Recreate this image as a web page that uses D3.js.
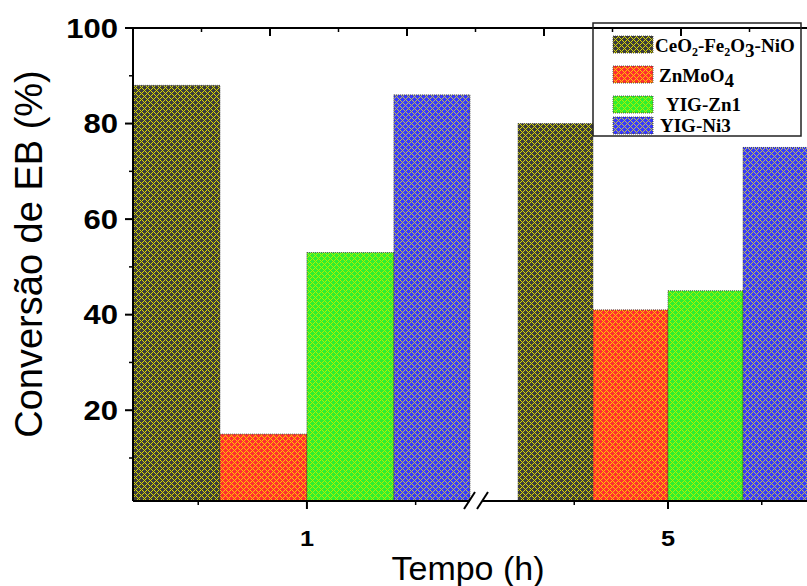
<!DOCTYPE html>
<html><head><meta charset="utf-8">
<script src="https://cdn.jsdelivr.net/npm/d3@7"></script>
<style>html,body{margin:0;padding:0;background:#fff;}svg{display:block;}</style>
</head><body>
<script>
// ---- data ----
const categories = ["1", "5"];
const seriesNames = ["CeO2-Fe2O3-NiO", "ZnMoO4", "YIG-Zn1", "YIG-Ni3"];
const ceoValues = [88, 80];
const znmoValues = [15, 41];
const yigZnValues = [53, 45];
const yigNiValues = [86, 75];
const yTicks = [20, 40, 60, 80, 100];
const yMinorTicks = [10, 30, 50, 70, 90];
const xTickLabels = ["1", "5"];

(function () {
const seriesValues = [ceoValues, znmoValues, yigZnValues, yigNiValues];
const baseColors = ["#3c3c3c", "#ff3030", "#30ee30", "#3838ff"];
const lineColors = ["#dcdc00", "#ffc800", "#b0f000", "#c0c050"];

const W = 807, H = 586;
const svg = d3.select("body").append("svg").attr("width", W).attr("height", H);

// crisp 6x6 diagonal crosshatch patterns
const defs = svg.append("defs");
const ps = 6;
baseColors.forEach((c, i) => {
  const p = defs.append("pattern").attr("id", "pat" + i)
    .attr("patternUnits", "userSpaceOnUse").attr("width", ps).attr("height", ps);
  p.append("rect").attr("width", ps).attr("height", ps).attr("fill", c).attr("shape-rendering", "crispEdges");
  for (let yy = 0; yy < ps; yy++) for (let xx = 0; xx < ps; xx++) {
    if ((xx + yy) % ps === 0 || ((xx - yy) % ps + ps) % ps === 0) {
      p.append("rect").attr("x", xx).attr("y", yy).attr("width", 1).attr("height", 1)
        .attr("fill", lineColors[i]).attr("shape-rendering", "crispEdges");
    }
  }
});

// scales
const pLeft = 133, pTop = 28, pBottom = 501;
const y = d3.scaleLinear().domain([1, 100]).range([pBottom, pTop]);
const breakLeft = 470, breakRight = 482;
const xSeg = [
  d3.scaleLinear().domain([0.6, 1.375]).range([pLeft, breakLeft]),
  d3.scaleLinear().domain([4.6, 5.4]).range([518, 818])
];
const centers = [1, 5];
const barW = 0.2;
const segMax = [1.375, 5.4];

// bars
const gBars = svg.append("g");
categories.forEach((cat, ci) => {
  const xs = xSeg[ci];
  seriesValues.forEach((vals, si) => {
    const x0 = centers[ci] - 2 * barW + si * barW;
    const x1 = Math.min(x0 + barW, segMax[ci]);
    gBars.append("rect")
      .attr("x", xs(x0)).attr("width", xs(x1) - xs(x0))
      .attr("y", y(vals[ci])).attr("height", y.range()[0] - y(vals[ci]))
      .attr("fill", `url(#pat${si})`)
      .attr("stroke", "#333").attr("stroke-width", 0.8).attr("stroke-dasharray", "1,1");
  });
});

// left axis
const gY = svg.append("g").attr("transform", `translate(${pLeft},0)`);
gY.append("line").attr("x1", 0).attr("x2", 0).attr("y1", pTop).attr("y2", pBottom).attr("stroke", "#000").attr("stroke-width", 2);
gY.selectAll(".maj").data(yTicks).join("line").attr("class", "maj").attr("x1", -8).attr("x2", 0)
  .attr("y1", d => y(d)).attr("y2", d => y(d)).attr("stroke", "#000").attr("stroke-width", 2);
gY.selectAll(".min").data(yMinorTicks).join("line").attr("class", "min").attr("x1", -4).attr("x2", 0)
  .attr("y1", d => y(d)).attr("y2", d => y(d)).attr("stroke", "#000").attr("stroke-width", 1.5);
gY.selectAll("text").data(yTicks).join("text")
  .attr("transform", d => `translate(-15,${y(d)}) scale(1.15,1)`)
  .attr("dy", "0.36em").attr("text-anchor", "end")
  .attr("font-family", "Liberation Sans, Arial, sans-serif").attr("font-weight", "bold").attr("font-size", 27)
  .text(d => d);

// top axis (decorative, inward ticks)
const xTop = d3.scaleLinear().domain([0, 5]).range([pLeft, 818]);
svg.append("line").attr("x1", pLeft).attr("x2", W).attr("y1", pTop).attr("y2", pTop).attr("stroke", "#000").attr("stroke-width", 2);
const topMaj = d3.range(0, 6, 1), topMin = d3.range(0.5, 5, 1);
svg.selectAll(".tmaj").data(topMaj).join("line").attr("class", "tmaj").attr("x1", d => xTop(d)).attr("x2", d => xTop(d))
  .attr("y1", pTop).attr("y2", pTop + 8).attr("stroke", "#000").attr("stroke-width", 2);
svg.selectAll(".tmin").data(topMin).join("line").attr("class", "tmin").attr("x1", d => xTop(d)).attr("x2", d => xTop(d))
  .attr("y1", pTop).attr("y2", pTop + 4).attr("stroke", "#000").attr("stroke-width", 1.5);

// bottom axis (broken)
const gX = svg.append("g");
gX.append("line").attr("x1", pLeft).attr("x2", breakLeft).attr("y1", pBottom).attr("y2", pBottom).attr("stroke", "#000").attr("stroke-width", 2);
gX.append("line").attr("x1", breakRight).attr("x2", W).attr("y1", pBottom).attr("y2", pBottom).attr("stroke", "#000").attr("stroke-width", 2);
[[464, 475], [477, 488]].forEach(([a, b]) => {
  gX.append("line").attr("x1", a).attr("y1", pBottom + 8).attr("x2", b).attr("y2", pBottom - 9).attr("stroke", "#000").attr("stroke-width", 2);
});
xSeg.forEach((xs, ci) => {
  const c = centers[ci];
  gX.append("line").attr("x1", xs(c)).attr("x2", xs(c)).attr("y1", pBottom).attr("y2", pBottom + 8).attr("stroke", "#000").attr("stroke-width", 2);
  [c - 0.25, c + 0.25].forEach(m => {
    gX.append("line").attr("x1", xs(m)).attr("x2", xs(m)).attr("y1", pBottom).attr("y2", pBottom + 4).attr("stroke", "#000").attr("stroke-width", 1.5);
  });
  gX.append("text").attr("transform", `translate(${xs(c)},546) scale(1.15,1)`).attr("text-anchor", "middle")
    .attr("font-family", "Liberation Sans, Arial, sans-serif").attr("font-weight", "bold").attr("font-size", 22)
    .text(xTickLabels[ci]);
});

// axis titles
svg.append("text").attr("x", 468).attr("y", 580).attr("text-anchor", "middle")
  .attr("font-family", "Liberation Sans, Arial, sans-serif").attr("font-size", 34).text("Tempo (h)");
svg.append("text").attr("transform", "translate(42,254) rotate(-90)").attr("text-anchor", "middle")
  .attr("font-family", "Liberation Sans, Arial, sans-serif").attr("font-size", 38).text("Conversão de EB (%)");

// legend
const lg = svg.append("g");
lg.append("rect").attr("x", 593).attr("y", 23).attr("width", 208).attr("height", 113)
  .attr("fill", "none").attr("stroke", "#222").attr("stroke-width", 1.5);
const swY = [36, 66, 96, 117];
const txt = [
  {x: 655, y: 52, parts: [["CeO",0],["2",1],["-Fe",0],["2",1],["O",0],["3",2],["-NiO",0]]},
  {x: 659, y: 82, parts: [["ZnMoO",0],["4",2]]},
  {x: 666, y: 111, parts: [["YIG-Zn1",0]]},
  {x: 660, y: 132, parts: [["YIG-Ni3",0]]}
];
seriesNames.forEach((n, i) => {
  lg.append("rect").attr("x", 613).attr("y", swY[i]).attr("width", 40).attr("height", 17)
    .attr("fill", `url(#pat${i})`).attr("stroke", "#333").attr("stroke-width", 0.8).attr("stroke-dasharray", "1,1");
  const t = lg.append("text").attr("x", txt[i].x).attr("y", txt[i].y)
    .attr("font-family", "Liberation Serif, Times New Roman, serif").attr("font-weight", "bold").attr("font-size", 19);
  let prev = 0;
  txt[i].parts.forEach(([s, k]) => {
    const off = k === 1 ? 4 : k === 2 ? 5 : 0;
    t.append("tspan").attr("dy", off - prev).attr("font-size", k === 1 ? 12 : 19).text(s);
    prev = off;
  });
});
})();
</script>
</body></html>
